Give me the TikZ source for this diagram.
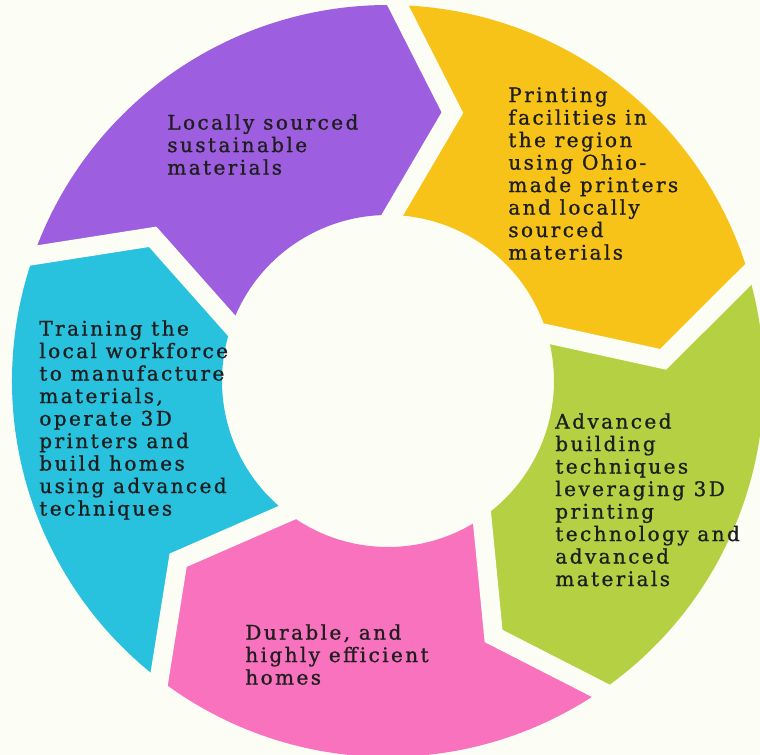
\documentclass[tikz,border=0pt]{standalone}
\usepackage{fontspec}
\setmainfont{DejaVu Serif}[LetterSpace=12,FakeBold=1]
\usetikzlibrary{calc}
\definecolor{bg}{HTML}{FCFDF4}
\definecolor{ink}{HTML}{1E1E1E}
\definecolor{lav}{HTML}{9D5FE0}
\definecolor{gold}{HTML}{F7C318}
\definecolor{lime}{HTML}{B5D042}
\definecolor{rose}{HTML}{F872BE}
\definecolor{sky}{HTML}{28C1DE}
\newcommand{\ringout}{7.52}
\newcommand{\ringin}{3.32}
\newcommand{\ringmid}{5.52}
\tikzset{%
  seg/.style = {draw=none},
  gap/.style = {draw=bg,line width=0.38cm},
  lbl/.style = {anchor=north west,align=left,inner sep=0pt,
        text=ink,font=\fontsize{11.4pt}{12.8pt}\selectfont}
}

\begin{document}
\begin{tikzpicture}
   \fill[bg] (-7.76,-7.48) rectangle (7.44,7.62);
   \useasboundingbox (-7.76,-7.48) rectangle (7.44,7.62);

   \foreach \t/\col in {160.5/lav,88.5/gold,16.5/lime,-55.5/rose,-127.5/sky} {
      \fill[seg,\col] (\t:\ringout)
         arc[start angle=\t,end angle=\t-72,radius=\ringout]
         -- (\t-84:\ringmid) -- (\t-72:\ringin)
         arc[start angle=\t-72,end angle=\t,radius=\ringin]
         -- (\t-12:\ringmid) -- cycle;
   }

   \foreach \b in {160.5,88.5,16.5,-55.5,-127.5} {
      \coordinate (o) at (\b:\ringout);
      \coordinate (m) at (\b-12:\ringmid);
      \coordinate (i) at (\b:\ringin);
      \draw[gap] ($(m)!1.25!(o)$) -- (m) -- ($(m)!1.25!(i)$);
   }

   \node[lbl] (sourcing) at (-4.42,5.34) {Locally sourced\\sustainable\\materials};
   \node[lbl] (printing) at (2.40,5.88) {Printing\\facilities in\\the region\\using Ohio-\\made printers\\and locally\\sourced\\materials};
   \node[lbl] (building) at (3.34,-0.64) {Advanced\\building\\techniques\\leveraging 3D\\printing\\technology and\\advanced\\materials};
   \node[lbl] (homes) at (-2.86,-4.86) {Durable, and\\highly efficient\\homes};
   \node[lbl] (training) at (-6.98,1.22) {Training the\\local workforce\\to manufacture\\materials,\\operate 3D\\printers and\\build homes\\using advanced\\techniques};
\end{tikzpicture}
\end{document}
